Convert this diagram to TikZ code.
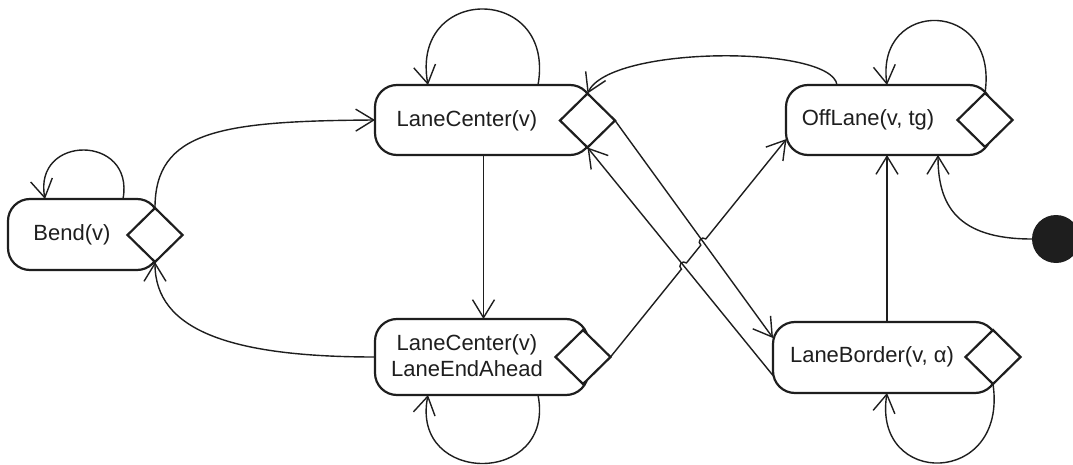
\documentclass[tikz,border=0pt]{standalone}
\usepackage{fontspec}
\setmainfont{Liberation Sans}
\usetikzlibrary{shapes.geometric,arrows.meta,calc,intersections}
\definecolor{ink}{HTML}{1E1E1E}
\begin{document}
\begin{tikzpicture}[x=1pt,y=-1pt,
  state/.style={draw=ink,line width=2.2pt,rounded corners=22pt,fill=white,inner sep=0pt,outer sep=0pt},
  choice/.style={diamond,draw=ink,line width=2.2pt,fill=white,inner sep=0pt,outer sep=0pt,minimum width=55pt,minimum height=54pt},
  lbl/.style={text=ink,font=\fontsize{22}{26}\selectfont,align=center,inner sep=0pt},
  tr/.style={draw=ink,line width=1.4pt,-{Straight Barb[length=18pt,width=22pt]}},
]
\useasboundingbox (0,0) rectangle (1073,465);
\fill[white] (0,0) rectangle (1073,465);

% states
\node[state,minimum width=151pt,minimum height=71pt] (bend) at (83.5,234.5) {};
\node[state,minimum width=217pt,minimum height=70pt] (lc) at (483.5,120) {};
\node[state,minimum width=213pt,minimum height=76pt] (ea) at (481.5,357) {};
\node[state,minimum width=205pt,minimum height=70pt] (ol) at (888.5,120) {};
\node[state,minimum width=224pt,minimum height=71pt] (lb) at (885,357.5) {};

% choice diamonds on the right end of each state
\node[choice] (bendD) at (155,235) {};
\node[choice] (lcD) at (587.5,120.5) {};
\node[choice] (eaD) at (583,357) {};
\node[choice] (olD) at (985,120) {};
\node[choice] (lbD) at (993,357) {};

% state names
\node[lbl] (bendT) at (72,235) {Bend(v)};
\node[lbl] (lcT) at (467,121) {LaneCenter(v)};
\node[lbl] (eaT) at (467,356) {LaneCenter(v)\\LaneEndAhead};
\node[lbl] (olT) at (868,120) {OffLane(v, tg)};
\node[lbl] (lbT) at (872,357) {LaneBorder(v, α)};

% initial pseudo-state
\node[circle,fill=ink,minimum size=48pt,inner sep=0pt] (init) at (1056,239) {};

% self loops
\draw[tr] ($(bend.north west)+(115,0)$) .. controls +(12,-65) and +(-12,-65) .. ($(bend.north west)+(37,0)$);
\draw[tr] ($(lc.north)+(54.5,0)$) .. controls +(18,-101) and +(-18,-101) .. ($(lc.north)+(-55.5,0)$);
\draw[tr] ($(ea.south)+(56.5,0)$) .. controls +(18,91) and +(-18,91) .. ($(ea.south)+(-53.5,0)$);
\draw[tr] (olD.north) .. controls +(14,-95) and +(-12,-87) .. ($(ol.north)+(-1.5,0)$);
\draw[tr] (lbD.south) .. controls +(15,103) and +(-15,95) .. ($(lb.south)+(2,0)$);

% transitions
\draw[tr] (bendD.north) .. controls +(0,-77) and +(-155,1) .. (lc.west);
\draw[tr] (ea.west) .. controls +(-145,0) and +(0,68) .. (bendD.south);
\draw[tr] (lc.south) -- (lc.south |- ea.north);
\coordinate (lbTop) at ($(lb.north)+(2,0)$);
\draw[tr] (lbTop) -- (lbTop |- ol.south);
\draw[tr] ($(ol.north west)+(51,0)$) .. controls +(-5,-40) and +(22.5,-48.5) .. (lcD.north);
\draw[tr] (init.west) .. controls +(-75,0) and +(0,50) .. ($(ol.south)+(49.5,0)$);

% crossing diagonals
\draw[tr,name path=p3] (lcD.east) -- ($(lb.north west)+(0,16)$);
\draw[tr,name path=p4] ($(lb.west)+(0,18)$) -- (lcD.south);
\coordinate (dEnd) at ($(ol.south west)+(0.5,-16)$);
\path[name path=p5] (eaD.east) -- (dEnd);
\path[name intersections={of=p4 and p5,by=xa}];
\path[name intersections={of=p3 and p5,by=xb}];
\draw[tr] (eaD.east) -- ($(xa)!4pt!(eaD.east)$) to[bend left=90,looseness=1.7] ($(xa)!4pt!(dEnd)$)
  -- ($(xb)!4pt!(eaD.east)$) to[bend left=90,looseness=1.7] ($(xb)!4pt!(dEnd)$) -- (dEnd);
\end{tikzpicture}
\end{document}
